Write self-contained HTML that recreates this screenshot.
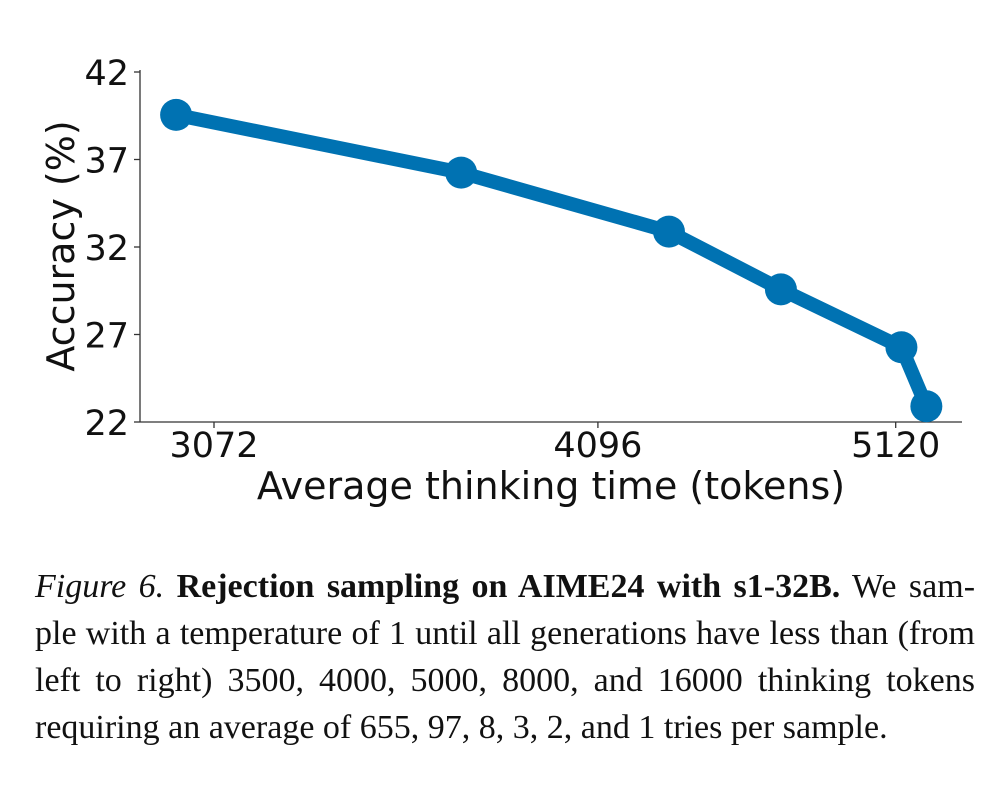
<!DOCTYPE html>
<html><head><meta charset="utf-8">
<style>
html,body{margin:0;padding:0;background:#fff;}
body{width:991px;height:788px;position:relative;overflow:hidden;}
#chart{position:absolute;left:0;top:0;}
.caption{position:absolute;left:35px;top:563px;width:940px;font-family:"Liberation Serif",serif;font-size:34px;line-height:47px;color:#111;}
.caption div{text-align:justify;text-align-last:justify;white-space:nowrap;}
.caption div.last{text-align-last:left;}
</style></head><body>
<svg id="chart" width="991" height="540" xmlns="http://www.w3.org/2000/svg"></svg>
<div class="caption">
<div><i>Figure 6.</i> <b>Rejection sampling on AIME24 with s1-32B.</b> We sam-</div>
<div>ple with a temperature of 1 until all generations have less than (from</div>
<div>left to right) 3500, 4000, 5000, 8000, and 16000 thinking tokens</div>
<div class="last">requiring an average of 655, 97, 8, 3, 2, and 1 tries per sample.</div>
</div>
<script>
const tokens = [2986, 3697, 4320, 4698, 5142, 5239];
const accuracy = [39.55, 36.25, 32.88, 29.58, 26.27, 22.9];
const xTicks = [3072, 4096, 5120];
const yTicks = [22, 27, 32, 37, 42];

const svg = document.getElementById('chart');
const NS = 'http://www.w3.org/2000/svg';
const xScale = v => 214 + (Math.log2(v) - Math.log2(3072)) * 925;
const yScale = v => 72 + (42 - v) * 17.5;
function mk(tag, attrs){const e=document.createElementNS(NS,tag);for(const k in attrs)e.setAttribute(k,attrs[k]);svg.appendChild(e);return e;}

const ya = mk('line',{x1:140,y1:70,x2:140,y2:422,stroke:'#333','stroke-width':1.3});


const xa = mk('line',{x1:140,y1:422,x2:962,y2:422,stroke:'#333','stroke-width':1.3});



yTicks.forEach(t=>{
  const y=yScale(t);
  const tk=mk('line',{x1:134,y1:y,x2:140,y2:y,stroke:'#333','stroke-width':1.3});
  
  
  const tx=mk('text',{x:129,y:y+13,'text-anchor':'end','font-family':'DejaVu Sans, sans-serif','font-size':35,fill:'#111'});
  tx.textContent=t;
  
  
});
xTicks.forEach(t=>{
  const x=xScale(t);
  const tk=mk('line',{x1:x,y1:422,x2:x,y2:428,stroke:'#333','stroke-width':1.3});
  
  
  const tx=mk('text',{x:x,y:457,'text-anchor':'middle','font-family':'DejaVu Sans, sans-serif','font-size':35,fill:'#111'});
  tx.textContent=t;
  
  
});
const xl=mk('text',{x:551,y:499,'text-anchor':'middle','font-family':'DejaVu Sans, sans-serif','font-size':38,fill:'#111'});
xl.textContent='Average thinking time (tokens)';


const yl=mk('text',{x:0,y:0,'text-anchor':'middle','font-family':'DejaVu Sans, sans-serif','font-size':38,fill:'#111',transform:'translate(74,246) rotate(-90)'});
yl.textContent='Accuracy (%)';



const pts=tokens.map((t,i)=>xScale(t)+','+yScale(accuracy[i])).join(' ');
const pl=mk('polyline',{points:pts,fill:'none',stroke:'#0072b2','stroke-width':14,'stroke-linejoin':'round'});


tokens.forEach((t,i)=>{
  const c=mk('circle',{cx:xScale(t),cy:yScale(accuracy[i]),r:16,fill:'#0072b2'});
  
  
});
</script>
</body></html>
